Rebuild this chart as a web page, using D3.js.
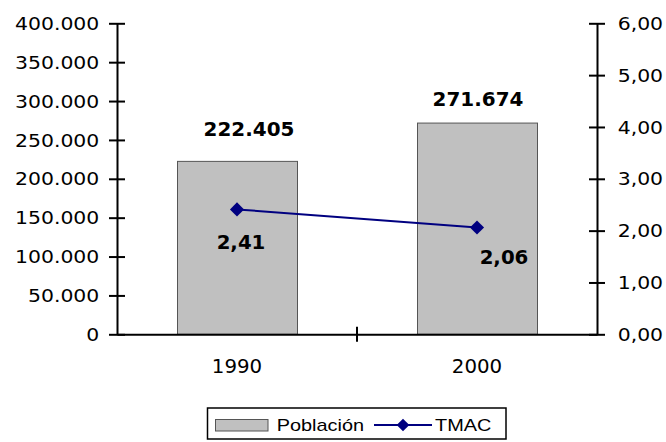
<!DOCTYPE html>
<html>
<head>
<meta charset="utf-8">
<script src="https://cdn.jsdelivr.net/npm/d3@7"></script>
<style>
  body { margin: 0; background: #fff; }
</style>
</head>
<body>
<div class="chart"></div>
<script>
let years = ['1990', '2000'];
let poblacion = [222405, 271674];
let tmac = [2.41, 2.06];
let leftTicks = [0, 50000, 100000, 150000, 200000, 250000, 300000, 350000, 400000];
let rightTicks = [0, 1, 2, 3, 4, 5, 6];
let legendLabels = ['Población', 'TMAC'];

// label nudges (excel placed them by hand)
let barLabelShift = [[12, -25], [1, -17]];
let tmacLabelShift = [[4, 40], [27, 36]];

let width = 666;
let height = 442;
let plotLeft = 117, plotRight = 597, plotTop = 23.3, plotBottom = 334.3;

let es = d3.formatLocale({decimal: ',', thousands: '.', grouping: [3], currency: ['', '']});
let fmtPob = es.format(',.0f');
let fmtTmac = es.format(',.2f');

let svg = d3.select('.chart')
            .append('svg')
            .attr('width', width)
            .attr('height', height);

let x = d3.scaleBand()
          .domain(years)
          .range([plotLeft, plotRight])
          .paddingInner(0.5)
          .paddingOuter(0.25);
let yLeft = d3.scaleLinear().domain([0, 400000]).range([plotBottom, plotTop]);
let yRight = d3.scaleLinear().domain([0, 6]).range([plotBottom, plotTop]);

// the original picture is stretched sideways a bit, so text gets scaleX
function putText(sel, px, py, sx) {
  return sel.attr('transform', 'translate(' + px + ',' + py + ') scale(' + sx + ',1)');
}

// bars
svg.selectAll('rect.bar')
   .data(poblacion)
   .enter()
   .append('rect')
   .attr('class', 'bar')
   .attr('x', (d, i) => x(years[i]) + 0.5)
   .attr('y', d => yLeft(d))
   .attr('width', x.bandwidth())
   .attr('height', d => plotBottom - yLeft(d))
   .attr('fill', '#c0c0c0')
   .attr('stroke', '#555')
   .attr('stroke-width', 1);

// left axis
let axL = svg.append('g')
             .attr('transform', 'translate(' + plotLeft + ',0)')
             .call(d3.axisLeft(yLeft).tickValues(leftTicks).tickFormat(fmtPob).tickSizeOuter(0));
axL.select('.domain').attr('stroke', '#000').attr('stroke-width', 2);
axL.selectAll('.tick line').attr('x1', -8).attr('x2', 8).attr('stroke', '#000').attr('stroke-width', 2);
axL.selectAll('.tick text')
   .attr('x', -17.7 / 1.2)
   .attr('dy', '0.36em')
   .attr('transform', 'scale(1.2,1)')
   .attr('fill', '#000')
   .style('font', '17px "DejaVu Sans"');

// right axis
let axR = svg.append('g')
             .attr('transform', 'translate(' + plotRight + ',0)')
             .call(d3.axisRight(yRight).tickValues(rightTicks).tickFormat(fmtTmac).tickSizeOuter(0));
axR.select('.domain').attr('stroke', '#000').attr('stroke-width', 2);
axR.selectAll('.tick line').attr('x1', -8).attr('x2', 8).attr('stroke', '#000').attr('stroke-width', 2);
axR.selectAll('.tick text')
   .attr('x', 20.7 / 1.2)
   .attr('dy', '0.36em')
   .attr('transform', 'scale(1.2,1)')
   .attr('fill', '#000')
   .style('font', '17px "DejaVu Sans"');

// bottom axis
let axB = svg.append('g')
             .attr('transform', 'translate(0,' + plotBottom + ')')
             .call(d3.axisBottom(x).tickSize(0));
axB.select('.domain').attr('stroke', '#000').attr('stroke-width', 2);
axB.selectAll('.tick text')
   .attr('y', 0)
   .attr('dy', 0)
   .attr('transform', 'translate(0,38.4) scale(1.04,1)')
   .attr('fill', '#000')
   .style('font', '19px "DejaVu Sans"');
let sep = (x(years[0]) + x.bandwidth() + x(years[1])) / 2;
svg.append('line')
   .attr('x1', sep).attr('x2', sep)
   .attr('y1', plotBottom - 7.5).attr('y2', plotBottom + 7.5)
   .attr('stroke', '#000')
   .attr('stroke-width', 2);

// TMAC line
let cx = (d, i) => x(years[i]) + x.bandwidth() / 2;
svg.append('path')
   .datum(tmac)
   .attr('fill', 'none')
   .attr('stroke', '#000080')
   .attr('stroke-width', 2)
   .attr('d', d3.line().x(cx).y(d => yRight(d)));
svg.selectAll('path.mark')
   .data(tmac)
   .enter()
   .append('path')
   .attr('class', 'mark')
   .attr('d', d3.symbol(d3.symbolSquare, 100))
   .attr('transform', (d, i) => 'translate(' + cx(d, i) + ',' + yRight(d) + ') rotate(45)')
   .attr('fill', '#000080');

// labels
svg.selectAll('text.barlab')
   .data(poblacion)
   .enter()
   .append('text')
   .attr('class', 'barlab')
   .attr('text-anchor', 'middle')
   .style('font', 'bold 19px "DejaVu Sans"')
   .attr('transform', (d, i) => 'translate(' + (cx(d, i) + barLabelShift[i][0]) + ',' + (yLeft(d) + barLabelShift[i][1]) + ') scale(1.05,1)')
   .text(d => fmtPob(d));
svg.selectAll('text.tmaclab')
   .data(tmac)
   .enter()
   .append('text')
   .attr('class', 'tmaclab')
   .attr('text-anchor', 'middle')
   .style('font', 'bold 19px "DejaVu Sans"')
   .attr('transform', (d, i) => 'translate(' + (cx(d, i) + tmacLabelShift[i][0]) + ',' + (yRight(d) + tmacLabelShift[i][1]) + ') scale(1.04,1)')
   .text(d => fmtTmac(d));

// legend
let legend = svg.append('g').attr('id', 'legend');
legend.append('rect')
      .attr('x', 207.5).attr('y', 408)
      .attr('width', 298.5).attr('height', 31)
      .attr('fill', '#fff')
      .attr('stroke', '#000')
      .attr('stroke-width', 1.5);
legend.append('rect')
      .attr('x', 215.5).attr('y', 419.5)
      .attr('width', 52.5).attr('height', 11.5)
      .attr('fill', '#c0c0c0')
      .attr('stroke', '#555');
putText(legend.append('text'), 276.7, 431, 1.17)
      .style('font', '17px "Liberation Sans"')
      .text(legendLabels[0]);
legend.append('line')
      .attr('x1', 374).attr('x2', 432)
      .attr('y1', 425).attr('y2', 425)
      .attr('stroke', '#000080')
      .attr('stroke-width', 2);
legend.append('path')
      .attr('d', d3.symbol(d3.symbolSquare, 80))
      .attr('transform', 'translate(403,425) rotate(45)')
      .attr('fill', '#000080');
putText(legend.append('text'), 435, 431, 1.17)
      .style('font', '17px "Liberation Sans"')
      .text(legendLabels[1]);
</script>
</body>
</html>
